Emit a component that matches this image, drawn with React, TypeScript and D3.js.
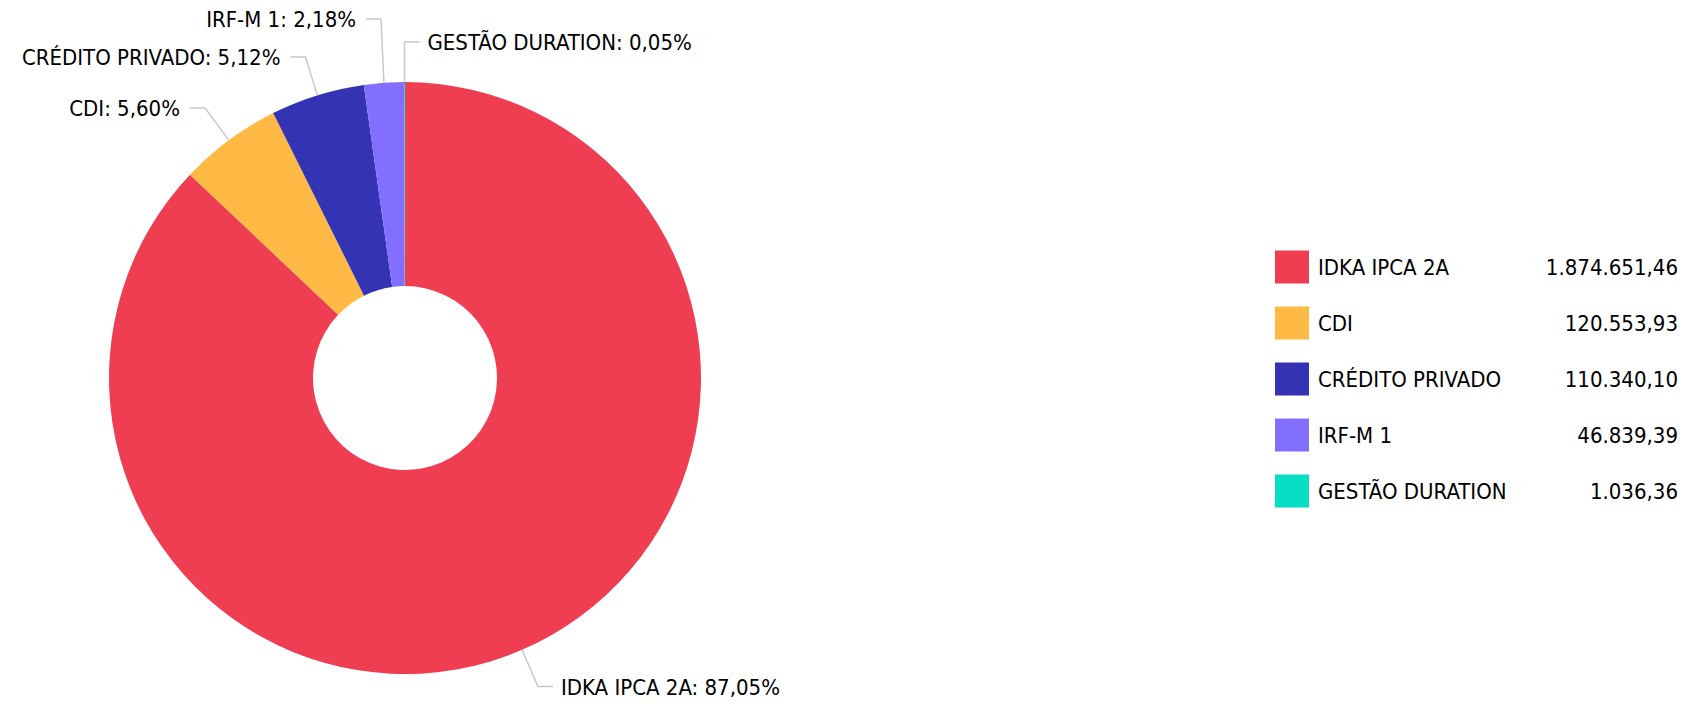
import React from "react";
import * as d3 from "d3";

const categories = ["IDKA IPCA 2A", "CDI", "CRÉDITO PRIVADO", "IRF-M 1", "GESTÃO DURATION"];
const values = [1874651.46, 120553.93, 110340.1, 46839.39, 1036.36];
const valueLabels = ["1.874.651,46", "120.553,93", "110.340,10", "46.839,39", "1.036,36"];
const colors = ["#ef3e52", "#ffb945", "#3333b3", "#836fff", "#08dec6"];

const W = 1688;
const H = 704;
const CX = 405;
const CY = 378;
const R = 296;
const R0 = 92;
const TICK = 40;
const HSEG = 15;
const GAP = 8;
const SPACING = 38;
const FONT = "'DejaVu Sans Condensed', 'DejaVu Sans', sans-serif";
const FS = 22;

const fmtPct = (v: number) => v.toFixed(2).replace(".", ",") + "%";

export default function App() {
  const data = categories.map((c, i) => ({ name: c, value: values[i], color: colors[i], vlabel: valueLabels[i] }));
  const total = d3.sum(values);
  const pie = d3.pie<any>().sort(null).value((d) => d.value);
  const arcs = pie(data);
  const arcGen = d3.arc<any>().innerRadius(R0).outerRadius(R);

  const labels = arcs.map((a) => {
    const mid = (a.startAngle + a.endAngle) / 2;
    const sx = CX + R * Math.sin(mid);
    const sy = CY - R * Math.cos(mid);
    const ex = CX + (R + TICK) * Math.sin(mid);
    const ey = CY - (R + TICK) * Math.cos(mid);
    const right = Math.round(sx) >= CX;
    return { a, sx, sy, ex, ey, y: ey, right, text: `${a.data.name}: ${fmtPct((a.data.value / total) * 100)}` };
  });
  // collision avoidance
  const rightSide = labels.filter((l) => l.right).sort((p, q) => p.ey - q.ey);
  for (let i = 1; i < rightSide.length; i++) {
    if (rightSide[i].y < rightSide[i - 1].y + SPACING) rightSide[i].y = rightSide[i - 1].y + SPACING;
  }
  const leftSide = labels.filter((l) => !l.right).sort((p, q) => q.ey - p.ey);
  for (let i = 1; i < leftSide.length; i++) {
    if (leftSide[i].y > leftSide[i - 1].y - SPACING) leftSide[i].y = leftSide[i - 1].y - SPACING;
  }

  const legendY = d3.scaleBand<string>().domain(categories).range([239, 519]).paddingInner(0);

  return (
    <svg width={W} height={H} style={{ position: "absolute", left: 0, top: 0, background: "#fff" }} fontFamily={FONT}>
      <g transform={`translate(${CX},${CY})`}>
        {arcs.map((a, i) => (
          <path key={i} d={arcGen(a) as string} fill={a.data.color} />
        ))}
      </g>
      {labels.map((l, i) => {
        const hx = l.right ? l.ex + HSEG : l.ex - HSEG;
        return (
          <g key={i}>
            <polyline
              points={`${l.sx},${l.sy} ${l.ex},${l.y} ${hx},${l.y}`}
              fill="none"
              stroke="#c8c8c8"
              strokeWidth={1.5}
            />
            <text
              x={l.right ? hx + GAP : hx - GAP - 2}
              y={l.y}
              dy="0.38em"
              textAnchor={l.right ? "start" : "end"}
              fontSize={FS}
              fill="#000"
            >
              {l.text}
            </text>
          </g>
        );
      })}
      {data.map((d, i) => {
        const y = (legendY(d.name) as number) + legendY.bandwidth() / 2;
        return (
          <g key={i}>
            <rect x={1275} y={y - 16.5} width={34} height={33} fill={d.color} />
            <text x={1318} y={y} dy="0.36em" fontSize={FS} fill="#000">
              {d.name}
            </text>
            <text x={1678} y={y} dy="0.36em" fontSize={FS} fill="#000" textAnchor="end">
              {d.vlabel}
            </text>
          </g>
        );
      })}
    </svg>
  );
}
